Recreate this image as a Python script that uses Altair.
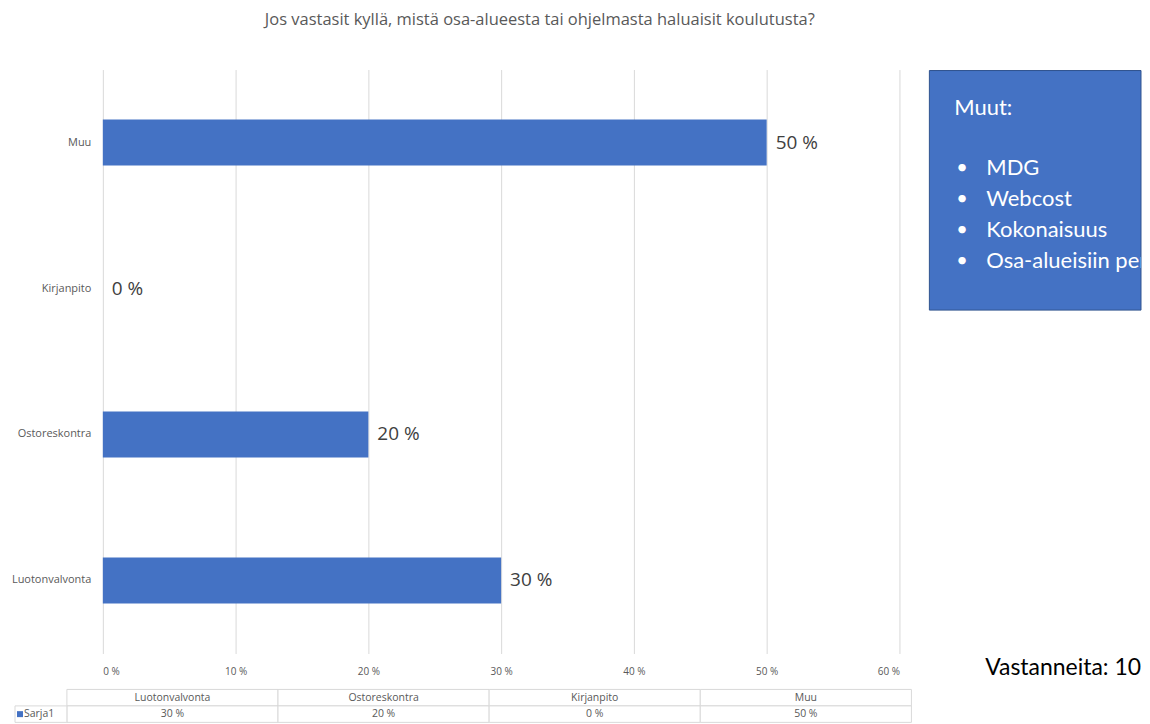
import altair as alt
import pandas as pd

# ---- data ----
categories = ["Luotonvalvonta", "Ostoreskontra", "Kirjanpito", "Muu"]
values = [30, 20, 0, 50]
x_ticks = [0, 10, 20, 30, 40, 50, 60]
series_name = "Sarja1"
title_text = "Jos vastasit kyllä, mistä osa-alueesta tai ohjelmasta haluaisit koulutusta?"
box_title = "Muut:"
box_items = ["MDG", "Webcost", "Kokonaisuus", "Osa-alueisiin perehdytys"]
respondents_label = "Vastanneita: 10"

BLUE = "#4472C4"
GRID = "#d9d9d9"
GREY = "#595959"
FONT = "Open Sans"
BOXFONT = "Lato"

df = pd.DataFrame({"cat": categories, "val": values})
df["label"] = [f"{v} %" for v in values]
y_order = categories[::-1]

# ---- main bar chart ----
base = alt.Chart(df).encode(
    y=alt.Y("cat:N", sort=y_order, title=None,
            scale=alt.Scale(paddingInner=0.685, paddingOuter=0.3425),
            axis=alt.Axis(labelFont=FONT, labelFontSize=11, labelColor=GREY,
                          ticks=False, domain=False, labelPadding=12, minExtent=95))
)
xenc = alt.X("val:Q", title=None, scale=alt.Scale(domain=[0, 60], nice=False),
             axis=alt.Axis(values=x_ticks, labelExpr="datum.value + ' %'", grid=True,
                           gridColor=GRID, gridWidth=1, domain=False, ticks=False,
                           labelFont=FONT, labelFontSize=10, labelColor=GREY, labelPadding=13))
bars = base.mark_bar(color=BLUE).encode(x=xenc)
labels = base.mark_text(align="left", baseline="middle", dx=9, font=FONT, fontSize=19,
                        color="#404040").encode(x=alt.X("val:Q"), text="label:N")
main = alt.layer(bars, labels).properties(width=798, height=585)

# ---- data table ----
rows = []
for c, lab in zip(categories, df["label"]):
    rows.append({"cat": c, "row": "head", "txt": c})
    rows.append({"cat": c, "row": "vals", "txt": lab})
tdf = pd.DataFrame(rows)
tx = alt.X("cat:N", sort=categories, title=None, axis=None,
           scale=alt.Scale(range=[-36, 810], paddingInner=0, paddingOuter=0))
ty = alt.Y("row:N", sort=["head", "vals"], title=None, axis=None,
           scale=alt.Scale(paddingInner=0, paddingOuter=0))
cells = alt.Chart(tdf).mark_rect(fill="white", stroke=GRID, strokeWidth=1).encode(x=tx, y=ty)
ctext = alt.Chart(tdf).mark_text(font=FONT, fontSize=10.5, color=GREY).encode(x=tx, y=ty, text="txt:N")
sdf = pd.DataFrame({"row": ["vals"], "txt": [series_name]})
scell = alt.Chart(sdf).mark_rect(fill="white", stroke=GRID, strokeWidth=1).encode(
    x=alt.value(-88), x2=alt.value(-36), y=ty)
ssq = alt.Chart(sdf).mark_square(size=36, color=BLUE, opacity=1, filled=True).encode(
    x=alt.value(-83), y=ty)
stext = alt.Chart(sdf).mark_text(font=FONT, fontSize=10.5, color=GREY, align="left").encode(
    x=alt.value(-79), y=ty, text="txt:N")
table = alt.layer(cells, ctext, scell, ssq, stext).properties(width=798, height=33)

# ---- side box ----
one = pd.DataFrame({"k": [0]})
box = alt.Chart(one).mark_rect(color=BLUE, stroke="#2F528F", strokeWidth=1).encode(
    x=alt.value(0), x2=alt.value(212), y=alt.value(1), y2=alt.value(241))
btitle = alt.Chart(one).mark_text(text=box_title, font=BOXFONT, fontSize=22, color="white",
                                  align="left", baseline="middle").encode(
    x=alt.value(25), y=alt.value(39))
bullets = alt.Chart(one).mark_text(text=["•"] * len(box_items), font=BOXFONT, fontSize=20,
                                   color="white", align="left", baseline="middle",
                                   lineHeight=31).encode(x=alt.value(27), y=alt.value(99))
items = alt.Chart(one).mark_text(text=box_items, font=BOXFONT, fontSize=22, color="white",
                                 align="left", baseline="middle", lineHeight=31,
                                 clip=True).encode(x=alt.value(57), y=alt.value(99))
vast = alt.Chart(one).mark_text(text=respondents_label, font=BOXFONT, fontSize=23,
                                color="black", align="right", baseline="middle").encode(
    x=alt.value(212), y=alt.value(600))
side = alt.layer(box, btitle, bullets, items, vast).properties(width=212, height=610)

left = alt.vconcat(main, table, spacing=12)
chart = alt.hconcat(left, side, spacing=16).properties(
    title=alt.TitleParams(title_text, font=FONT, fontSize=16.5, color=GREY, fontWeight="normal",
                          anchor="middle", dx=-35, offset=41),
    padding={"left": 0, "top": 3, "right": 0, "bottom": 0},
).configure_view(strokeWidth=0)

chart.save("out.html", embed_options={"renderer": "svg", "actions": False})
